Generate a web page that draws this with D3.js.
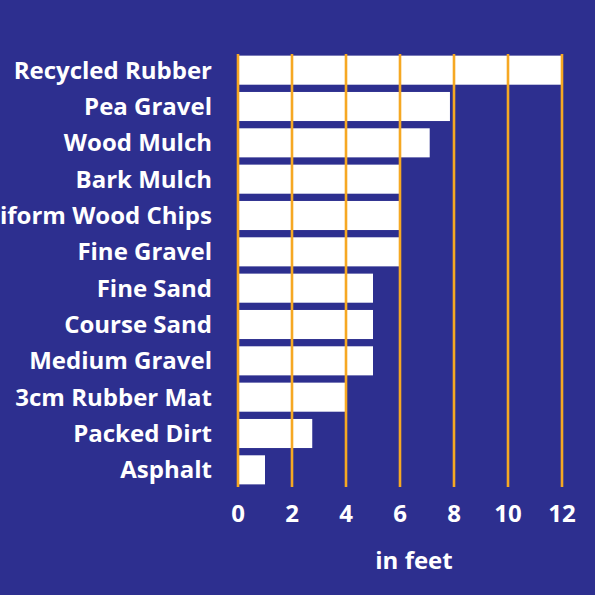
<!DOCTYPE html>
<html><head><meta charset="utf-8">
<script src="https://cdn.jsdelivr.net/npm/d3@7"></script>
<style>html,body{margin:0;padding:0;background:#2d2f8f;overflow:hidden}</style>
</head><body>
<svg id="c" width="595" height="595"></svg>
<script>
const categories = ["Recycled Rubber","Pea Gravel","Wood Mulch","Bark Mulch","Uniform Wood Chips","Fine Gravel","Fine Sand","Course Sand","Medium Gravel","3cm Rubber Mat","Packed Dirt","Asphalt"];
const values = [12, 7.85, 7.1, 6, 6, 6, 5, 5, 5, 4, 2.75, 1];
const tickValues = [0, 2, 4, 6, 8, 10, 12];
const axisTitle = "in feet";

const W = 595, H = 595;
const bg = "#2d2f8f", orange = "#f6a823", white = "#ffffff";
const svg = d3.select("#c");
svg.append("rect").attr("width", W).attr("height", H).attr("fill", bg);

const x = d3.scaleLinear().domain([0, 12]).range([238, 562]);
const y = d3.scaleBand().domain(categories).range([52, 488]).paddingInner(0.2).paddingOuter(0.1);

const font = "'Open Sans', Lato, sans-serif";

svg.append("g").selectAll("rect").data(categories).join("rect")
  .attr("x", x(0))
  .attr("y", d => y(d))
  .attr("width", (d, i) => x(values[i]) - x(0))
  .attr("height", y.bandwidth())
  .attr("fill", white);

svg.append("g").selectAll("line").data(tickValues).join("line")
  .attr("x1", d => x(d)).attr("x2", d => x(d))
  .attr("y1", 54).attr("y2", 487)
  .attr("stroke", orange).attr("stroke-width", 2.6);

svg.append("g").selectAll("text").data(categories).join("text")
  .attr("x", 212)
  .attr("y", d => y(d) + y.bandwidth() / 2)
  .attr("dy", "0.35em")
  .attr("text-anchor", "end")
  .attr("fill", white)
  .attr("font-family", font)
  .attr("font-weight", 700)
  .attr("font-size", 24)
  .text(d => d);

svg.append("g").selectAll("text").data(tickValues).join("text")
  .attr("x", d => x(d))
  .attr("y", 514)
  .attr("dy", "0.35em")
  .attr("text-anchor", "middle")
  .attr("fill", white)
  .attr("font-family", font)
  .attr("font-weight", 700)
  .attr("font-size", 24)
  .text(d => d);

svg.append("text")
  .attr("x", 414).attr("y", 561).attr("dy", "0.35em")
  .attr("text-anchor", "middle")
  .attr("fill", white)
  .attr("font-family", font)
  .attr("font-weight", 700)
  .attr("font-size", 24)
  .text(axisTitle);
</script>
</body></html>
